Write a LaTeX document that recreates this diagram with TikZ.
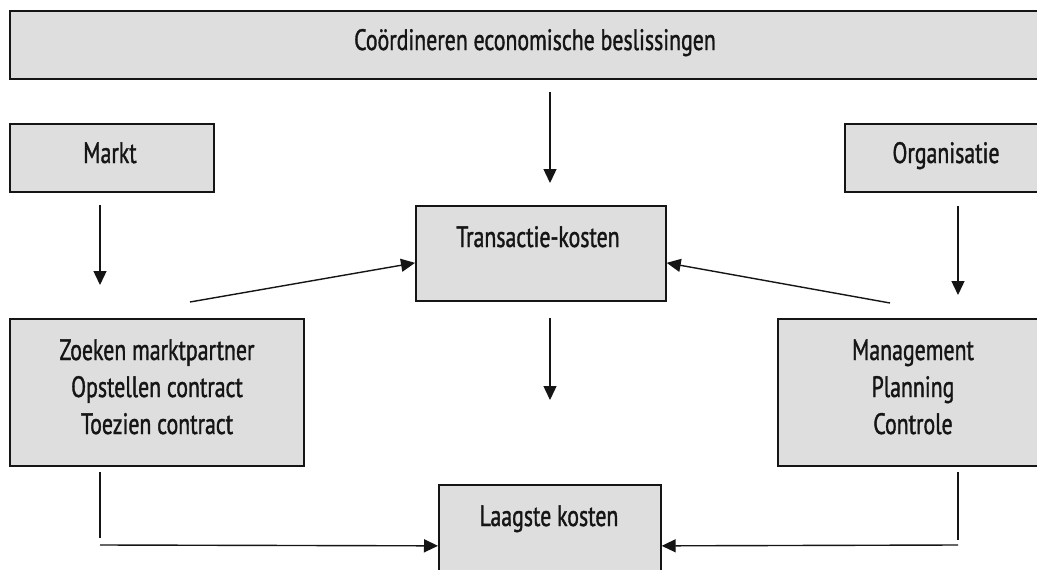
\documentclass[tikz,border=0pt]{standalone}
\usepackage{fontspec}
\setmainfont{PT Sans}[FakeStretch=0.74,FakeBold=1.2]
\usetikzlibrary{arrows.meta,calc}
\definecolor{boxgray}{HTML}{DEDEDE}
\definecolor{edge}{HTML}{151515}
\begin{document}
\begin{tikzpicture}[x=1pt,y=-1pt,
  box/.style={draw=edge, line width=1.7pt, fill=boxgray, inner sep=0pt, anchor=north west},
  lbl/.style={anchor=base, inner sep=0pt, text=edge, font=\fontsize{29.5}{36}\selectfont},
  arr/.style={draw=edge, line width=1.4pt, -{Triangle[length=14pt,width=13pt]}},
  ln/.style={draw=edge, line width=1.4pt}]
\useasboundingbox (0,0) rectangle (1037,570);
\fill[white] (0,0) rectangle (1037,570);

% boxes
\node[box, minimum width=1029pt, minimum height=68pt] (top) at (9,10) {};
\node[box, minimum width=204pt, minimum height=68pt] (markt) at (9,123) {};
\node[box, minimum width=194pt, minimum height=68pt] (org) at (844,123) {};
\node[box, minimum width=250pt, minimum height=95pt] (trans) at (415,205) {};
\node[box, minimum width=294pt, minimum height=147pt] (zoek) at (9,318) {};
\node[box, minimum width=261pt, minimum height=147pt] (man) at (777,318) {};
\node[box, minimum width=222pt, minimum height=100pt] (laag) at (438,484) {};

% texts
\node[lbl] (topT) at (535,50) {Coördineren economische beslissingen};
\node[lbl] (marktT) at (110,163) {Markt};
\node[lbl] (orgT) at (946,163) {Organisatie};
\node[lbl] (transT) at (538,247) {Transactie-kosten};
\node[lbl] (zoekA) at (157,360) {Zoeken marktpartner};
\node[lbl] (zoekB) at (157,397) {Opstellen contract};
\node[lbl] (zoekC) at (157,434) {Toezien contract};
\node[lbl] (manA) at (913,360) {Management};
\node[lbl] (manB) at (913,397) {Planning};
\node[lbl] (manC) at (913,434) {Controle};
\node[lbl] (laagT) at (549,526) {Laagste kosten};

% free connector ends
\coordinate (t1) at (550,92);
\coordinate (t2) at (550,183);
\coordinate (mk1) at (100,205);
\coordinate (mk2) at (100,285);
\coordinate (og1) at (958,206);
\coordinate (og2) at (958,295);
\coordinate (zs) at (190,302);
\coordinate (ms) at (890,303);
\coordinate (tr1) at (550,318);
\coordinate (tr2) at (550,400);
\coordinate (zl1) at (100,472);
\coordinate (zl2) at (100,538);
\coordinate (zl3) at (100,545);
\coordinate (ml1) at (958,472);
\coordinate (ml2) at (958,540);
\coordinate (ml3) at (958,545);

% connectors
\draw[arr] (t1) -- (t2);
\draw[arr] (mk1) -- (mk2);
\draw[arr] (og1) -- (og2);
\draw[arr] (zs) -- ([yshift=-9.5pt]trans.west);
\draw[arr] (ms) -- ([yshift=-9.5pt]trans.east);
\draw[arr] (tr1) -- (tr2);
\draw[ln] (zl1) -- (zl2);
\draw[arr] (zl3) -- ([yshift=-11pt]laag.west);
\draw[ln] (ml1) -- (ml2);
\draw[arr] (ml3) -- ([yshift=-11pt]laag.east);
\end{tikzpicture}
\end{document}
